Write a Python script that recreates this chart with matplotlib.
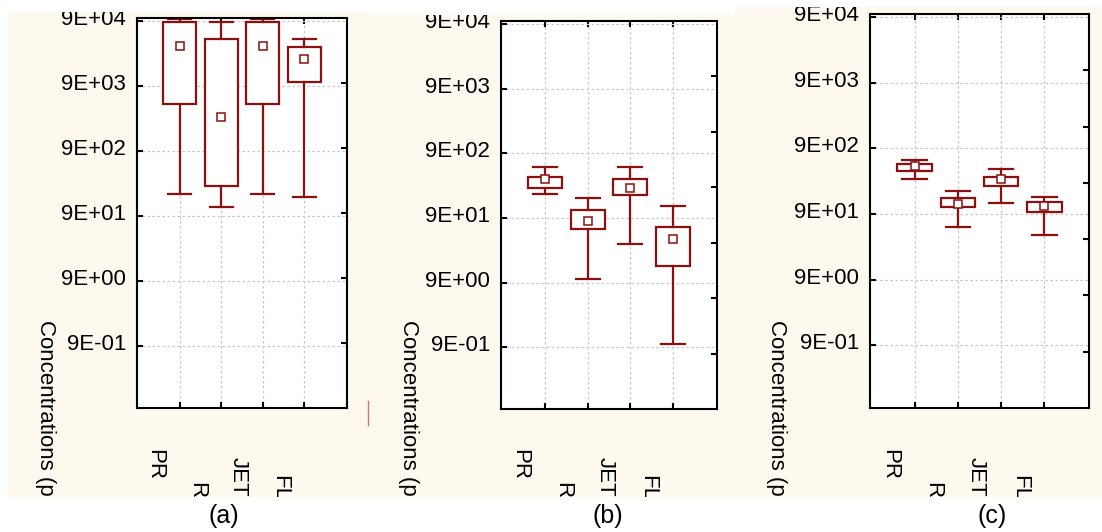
import matplotlib.pyplot as plt
import matplotlib.transforms as mtrans
from matplotlib.lines import Line2D

plt.rcParams['font.family'] = ['Liberation Sans', 'DejaVu Sans']

W, H = 1102, 532
RED = '#8c1010'
CREAM = '#fef9ee'

groups = ['PR', 'R', 'JET', 'FL']
ytick_vals = [0.9, 9, 90, 900, 9000, 90000]
ytick_labels = ['9E-01', '9E+00', '9E+01', '9E+02', '9E+03', '9E+04']

# panel (a)
a_whislo = [194, 125, 194, 176]
a_q1 = [4750, 256, 4750, 10350]
a_mean = [36700, 3000, 36700, 23200]
a_q3 = [85500, 46900, 85500, 35400]
a_whishi = [98000, 87500, 98000, 47900]

# panel (b)
b_whislo = [212, 10.1, 35.2, 1.01]
b_q1 = [263, 59.9, 207, 16.4]
b_mean = [360, 82.2, 266, 42.7]
b_q3 = [387, 121, 357, 66.1]
b_whishi = [558, 181, 545, 138]

# panel (c)
c_whislo = [310, 56.9, 131, 42.4]
c_q1 = [408, 115, 244, 96.2]
c_mean = [488, 128, 303, 118]
c_q3 = [518, 158, 328, 136]
c_whishi = [604, 200, 431, 163]


def fx(x):
    return x / W


def fy(y):
    return 1 - y / H


# layout in pixels: cream (x0, x1, y0, y1), axes (x0, x1, y0, y1)
panels = [
    ('(a)', (8, 370, 12, 497), (137, 347, 18, 408), 6, 224, 45,
     (a_whislo, a_q1, a_mean, a_q3, a_whishi)),
    ('(b)', (370, 735, 15, 497), (501, 717, 21, 409), 7, 608, 408,
     (b_whislo, b_q1, b_mean, b_q3, b_whishi)),
    ('(c)', (735, 1102, 7, 497), (870, 1089, 14, 408), 7, 992, 776,
     (c_whislo, c_q1, c_mean, c_q3, c_whishi)),
]
label_tops = [449, 482, 457, 475]

fig = plt.figure(figsize=(W / 100, H / 100), dpi=100)

for name, cr, axr, nright, lab_x, ylab_x, data in panels:
    bg = fig.add_axes([fx(cr[0]), fy(cr[3]), fx(cr[1] - cr[0]), (cr[3] - cr[2]) / H])
    bg.set_facecolor(CREAM)
    bg.set_xticks([])
    bg.set_yticks([])
    for s in bg.spines.values():
        s.set_visible(False)

    ax = fig.add_axes([fx(axr[0]), fy(axr[3]), fx(axr[1] - axr[0]), (axr[3] - axr[2]) / H])
    whislo, q1, mean, q3, whishi = data
    stats = []
    for i in range(len(groups)):
        stats.append(dict(whislo=whislo[i], q1=q1[i], med=q1[i], q3=q3[i],
                          whishi=whishi[i], mean=mean[i], fliers=[]))
    ax.bxp(stats, positions=[1, 2, 3, 4], widths=0.8, capwidths=0.56,
           patch_artist=True, showmeans=True, showfliers=False,
           boxprops=dict(facecolor='white', edgecolor=RED, linewidth=1.6),
           whiskerprops=dict(color=RED, linewidth=1.6),
           capprops=dict(color=RED, linewidth=1.6),
           medianprops=dict(linestyle='none'),
           meanprops=dict(marker='s', markerfacecolor='white', markeredgecolor=RED,
                          markersize=6, markeredgewidth=1.1))
    ax.set_yscale('log')
    ax.set_ylim(0.1, 1e5)
    ax.set_xlim(-0.03, 5.03)
    ax.set_yticks(ytick_vals, ytick_labels)
    ax.minorticks_off()
    ax.set_xticks([1, 2, 3, 4], [''] * 4)
    ax.set_axisbelow(True)
    ax.grid(True, color='#c8c8c8', linestyle=(0, (2, 2)), linewidth=0.9)
    ax.tick_params(axis='y', direction='in', length=4.5, width=1.5, labelsize=16, pad=8,
                   left=True, right=False)
    ax.tick_params(axis='x', direction='in', length=4.5, width=1.5, top=True, bottom=True)
    for s in ax.spines.values():
        s.set_linewidth(1.5)
        s.set_color('black')
    # labels sit a little above their ticks; the top one is cut by the panel edge
    up = mtrans.ScaledTranslation(0, 0.04, fig.dpi_scale_trans)
    for lab in ax.get_yticklabels():
        lab.set_transform(lab.get_transform() + up)
        lab.set_clip_on(True)
        lab.set_clip_path(bg.patch)

    ax2 = ax.twinx()
    ax2.set_ylim(0, 1)
    ax2.set_yticks([k / nright for k in range(1, nright)], [''] * (nright - 1))
    ax2.tick_params(axis='y', direction='in', length=4.5, width=1.5)
    for s in ax2.spines.values():
        s.set_visible(False)

    # rotated category labels, clipped by the cream panel
    off = mtrans.ScaledTranslation(-0.25, 0, fig.dpi_scale_trans)
    tr = mtrans.blended_transform_factory(ax.transData + off, fig.transFigure)
    for i, g in enumerate(groups):
        bg.text(i + 1, fy(label_tops[i]), g, transform=tr, rotation=270,
                ha='center', va='top', fontsize=16, clip_on=True)

    bg.text(fx(ylab_x), fy(320), 'Concentrations (p', transform=fig.transFigure,
            rotation=270, ha='center', va='top', fontsize=16, clip_on=True)

    fig.text(fx(lab_x), fy(516), name, ha='center', va='center', fontsize=18)

fig.add_artist(Line2D([fx(368), fx(368)], [fy(401), fy(425)], transform=fig.transFigure,
                      color='#c87878', linewidth=1))

fig.savefig('out.png', dpi=100)
